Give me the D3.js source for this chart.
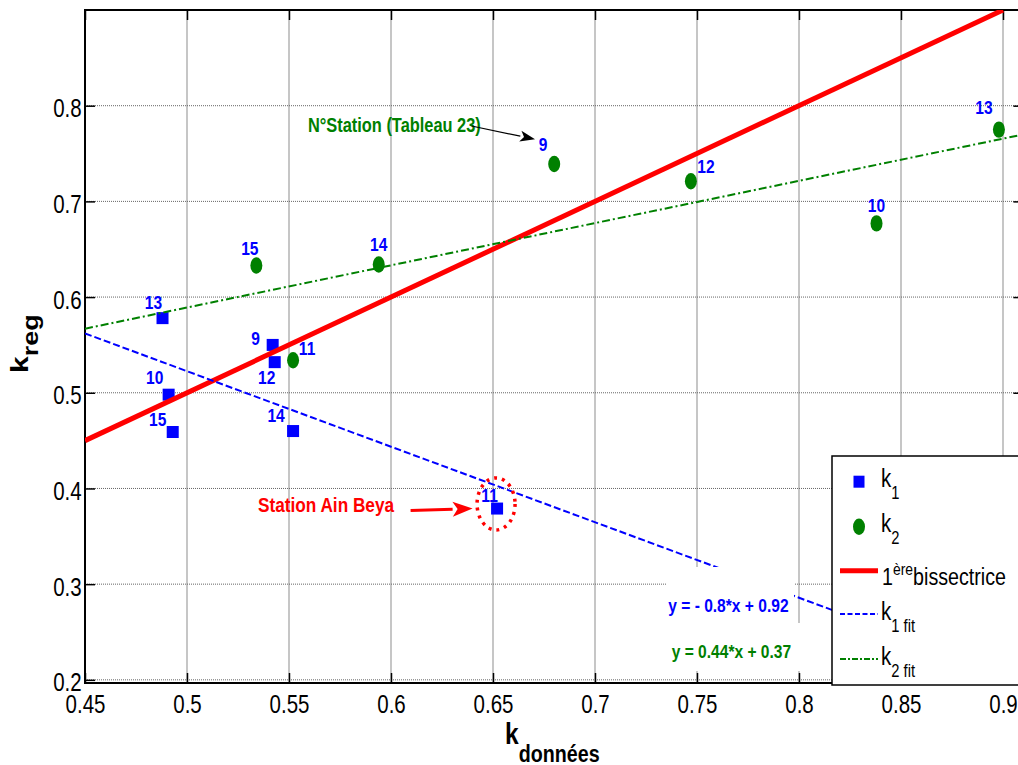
<!DOCTYPE html>
<html><head><meta charset="utf-8">
<script src="https://cdn.jsdelivr.net/npm/d3@7"></script>
<style>body{margin:0;background:#fff}svg{display:block}</style>
</head><body>
<svg id="c" width="1018" height="765"></svg>
<script>
// ---- data ----
const k1Stations = [13, 10, 15, 9, 12, 14, 11];
const k1X = [0.488, 0.491, 0.493, 0.542, 0.543, 0.552, 0.652];
const k1Y = [0.578, 0.498, 0.459, 0.550, 0.532, 0.460, 0.379];
const k2Stations = [15, 11, 14, 9, 12, 10, 13];
const k2X = [0.534, 0.552, 0.594, 0.680, 0.747, 0.838, 0.898];
const k2Y = [0.633, 0.534, 0.634, 0.739, 0.721, 0.677, 0.775];
const bisX = [0.45, 0.90];
const bisY = [0.45, 0.90];
const k1FitX = [0.45, 0.91];
const k1FitY = [0.562, 0.199];
const k2FitX = [0.45, 0.91];
const k2FitY = [0.567, 0.770];
const xTicks = [0.45, 0.5, 0.55, 0.6, 0.65, 0.7, 0.75, 0.8, 0.85, 0.9];
const yTicks = [0.2, 0.3, 0.4, 0.5, 0.6, 0.7, 0.8];
const eqK1 = "y = - 0.8*x + 0.92";
const eqK2 = "y = 0.44*x + 0.37";
// label offsets (px) for station numbers
const k1LabDx = [-9, -14, -15, -17, -8, -17, -7.5];
const k1LabDy = [-16, -17, -13, -7, 15, -16, -13];
const k2LabDx = [-6.5, 14, 0, -11, 15, 0, -15];
const k2LabDy = [-17.5, -12, -20, -20, -15, -18, -22];

const FONT = '"Liberation Sans", Arial, sans-serif';
const SQ = 0.82;
const BLUE = "#0000ff", GREEN = "#008000", RED = "#ff0000";

const svg = d3.select("#c");
const x = d3.scaleLinear().domain([0.45, 0.91]).range([85, 1023.4]);
const y = d3.scaleLinear().domain([0.1967, 0.9]).range([683, 10]);
const X0 = x.range()[0], X1 = x.range()[1], Y0 = y.range()[1], Y1 = y.range()[0];

function stext(parent, px, py, opts = {}) {
  const t = parent.append("text")
    .attr("transform", `translate(${px},${py}) scale(${SQ},1)`)
    .attr("font-family", FONT)
    .attr("font-size", opts.size || 18)
    .attr("font-weight", opts.bold ? "bold" : "normal")
    .attr("fill", opts.fill || "#000")
    .attr("text-anchor", opts.anchor || "start");
  if (opts.text !== undefined) t.text(opts.text);
  return t;
}

svg.append("defs").append("clipPath").attr("id", "clip")
  .append("rect").attr("x", X0).attr("y", Y0).attr("width", X1 - X0).attr("height", Y1 - Y0);

// grid
const grid = svg.append("g");
grid.selectAll(".vg").data(xTicks.filter(d => d > 0.45)).join("line")
  .attr("x1", d => x(d)).attr("x2", d => x(d)).attr("y1", Y0).attr("y2", Y1)
  .attr("stroke", "#a0a0a0").attr("stroke-width", 1.2);
grid.selectAll(".hg").data(yTicks).join("line")
  .attr("x1", X0).attr("x2", X1).attr("y1", d => y(d)).attr("y2", d => y(d))
  .attr("stroke", "#666").attr("stroke-width", 1).attr("stroke-dasharray", "1,1");

// axes ticks
const fmt = d => String(+d.toFixed(2));
const gx = svg.append("g").attr("transform", `translate(0,${Y1})`)
  .call(d3.axisBottom(x).tickValues(xTicks).tickFormat(fmt).tickSizeInner(-10).tickSizeOuter(0));
gx.selectAll("text").attr("y", 30).attr("dy", null).attr("transform", `scale(${SQ},1)`)
  .attr("font-size", 25).attr("font-family", FONT).attr("fill", "#000");
const gy = svg.append("g").attr("transform", `translate(${X0},0)`)
  .call(d3.axisLeft(y).tickValues(yTicks).tickFormat(fmt).tickSizeInner(-10).tickSizeOuter(0));
gy.selectAll("text").attr("x", -4).attr("y", 11).attr("dy", null).attr("transform", `scale(${SQ},1)`)
  .attr("font-size", 25).attr("font-family", FONT).attr("fill", "#000");
svg.append("g").attr("transform", `translate(0,${Y0})`)
  .call(d3.axisTop(x).tickValues(xTicks).tickFormat("").tickSizeInner(-10).tickSizeOuter(0));
svg.append("g").attr("transform", `translate(${X1},0)`)
  .call(d3.axisRight(y).tickValues(yTicks).tickFormat("").tickSizeInner(-10).tickSizeOuter(0));
svg.selectAll(".domain").remove();
svg.selectAll(".tick line").attr("stroke", "#000").attr("stroke-width", 1.5);

// box
svg.append("rect").attr("x", X0).attr("y", Y0).attr("width", X1 - X0).attr("height", Y1 - Y0)
  .attr("fill", "none").attr("stroke", "#000").attr("stroke-width", 2);

const plot = svg.append("g").attr("clip-path", "url(#clip)");

// markers
const k1 = k1X.map((v, i) => ({ x: v, y: k1Y[i], s: k1Stations[i], dx: k1LabDx[i], dy: k1LabDy[i] }));
const k2 = k2X.map((v, i) => ({ x: v, y: k2Y[i], s: k2Stations[i], dx: k2LabDx[i], dy: k2LabDy[i] }));
plot.selectAll(".k1").data(k1).join("rect")
  .attr("x", d => x(d.x) - 6).attr("y", d => y(d.y) - 6).attr("width", 12).attr("height", 12)
  .attr("fill", BLUE);
plot.selectAll(".k2").data(k2).join("ellipse")
  .attr("cx", d => x(d.x)).attr("cy", d => y(d.y)).attr("rx", 6).attr("ry", 8.2)
  .attr("fill", GREEN);

// lines
const line = d3.line().x(d => x(d[0])).y(d => y(d[1]));
plot.append("path").attr("d", line(bisX.map((v, i) => [v, bisY[i]])))
  .attr("fill", "none").attr("stroke", RED).attr("stroke-width", 5);
plot.append("path").attr("d", line(k1FitX.map((v, i) => [v, k1FitY[i]])))
  .attr("fill", "none").attr("stroke", BLUE).attr("stroke-width", 2).attr("stroke-dasharray", "7,3");
plot.append("path").attr("d", line(k2FitX.map((v, i) => [v, k2FitY[i]])))
  .attr("fill", "none").attr("stroke", GREEN).attr("stroke-width", 2).attr("stroke-dasharray", "8,3,2,3");

// station labels
const labs = svg.append("g");
k1.concat(k2).forEach(d => {
  stext(labs, x(d.x) + d.dx, y(d.y) + d.dy + 6.8, { size: 19, bold: true, fill: BLUE, anchor: "middle", text: d.s });
});

// annotations
const ann = svg.append("g");
stext(ann, x(0.5593), y(0.773), { size: 20, bold: true, fill: GREEN, text: "N°Station (Tableau 23)" });
function arrow(g, x1, y1, x2, y2, color, w, hl, hw) {
  const ang = Math.atan2(y2 - y1, x2 - x1);
  const bx = x2 - hl * Math.cos(ang), by = y2 - hl * Math.sin(ang);
  g.append("line").attr("x1", x1).attr("y1", y1).attr("x2", bx).attr("y2", by)
    .attr("stroke", color).attr("stroke-width", w);
  const px = -Math.sin(ang) * hw / 2, py = Math.cos(ang) * hw / 2;
  const nx = x2 - hl * 0.75 * Math.cos(ang), ny = y2 - hl * 0.75 * Math.sin(ang);
  g.append("path").attr("d", `M${x2},${y2}L${bx + px},${by + py}L${nx},${ny}L${bx - px},${by - py}Z`)
    .attr("fill", color);
}
arrow(ann, x(0.6395), y(0.7788), x(0.6706), y(0.7649), "#000", 1.2, 15, 11);
stext(ann, x(0.5348), y(0.3752), { size: 21, bold: true, fill: RED, text: "Station Ain Beya" });
arrow(ann, x(0.6096), y(0.377), x(0.6400), y(0.3790), RED, 3, 20, 15);
ann.append("ellipse").attr("cx", x(0.6515)).attr("cy", y(0.3838)).attr("rx", 19).attr("ry", 26)
  .attr("fill", "none").attr("stroke", RED).attr("stroke-width", 3.5).attr("stroke-dasharray", "3,5");

// equation boxes
ann.append("rect").attr("x", 666).attr("y", 567).attr("width", 128).attr("height", 56).attr("fill", "#fff");
ann.append("rect").attr("x", 666).attr("y", 623).attr("width", 134).attr("height", 48).attr("fill", "#fff");
stext(ann, x(0.7359), y(0.2714), { size: 19, bold: true, fill: BLUE, text: eqK1 });
stext(ann, x(0.7376), y(0.2227), { size: 19, bold: true, fill: GREEN, text: eqK2 });

// axis labels
const xl = stext(svg, 505, 744, { size: 30, bold: true });
xl.append("tspan").text("k");
xl.append("tspan").attr("font-size", 24).attr("dy", 18).text("données");
const yl = svg.append("text")
  .attr("transform", `translate(28,373) scale(${SQ},1) rotate(-90)`)
  .attr("font-family", FONT).attr("font-weight", "bold").attr("font-size", 30);
yl.append("tspan").text("k");
yl.append("tspan").attr("font-size", 27).attr("dy", 12.5).text("reg");

// legend
const lg = svg.append("g");
lg.append("rect").attr("x", 832).attr("y", 456).attr("width", 200).attr("height", 229)
  .attr("fill", "#fff").attr("stroke", "#000").attr("stroke-width", 1.5);
lg.append("rect").attr("x", 853.5).attr("y", 475.7).attr("width", 11).attr("height", 12).attr("fill", BLUE);
lg.append("ellipse").attr("cx", 859).attr("cy", 526.7).attr("rx", 6).attr("ry", 8.2).attr("fill", GREEN);
lg.append("line").attr("x1", 840).attr("x2", 878).attr("y1", 570.7).attr("y2", 570.7)
  .attr("stroke", RED).attr("stroke-width", 5);
lg.append("line").attr("x1", 840).attr("x2", 878).attr("y1", 614).attr("y2", 614)
  .attr("stroke", BLUE).attr("stroke-width", 2).attr("stroke-dasharray", "5,2.5");
lg.append("line").attr("x1", 840).attr("x2", 878).attr("y1", 659).attr("y2", 659)
  .attr("stroke", GREEN).attr("stroke-width", 2).attr("stroke-dasharray", "6,2,2,2");
function kLabel(by, sub) {
  const t = stext(lg, 881, by, { size: 25 });
  t.append("tspan").text("k");
  t.append("tspan").attr("font-size", 18).attr("dy", 12).text(sub);
}
kLabel(487, "1");
kLabel(532, "2");
const bt = stext(lg, 882, 585, { size: 24 });
bt.append("tspan").text("1");
bt.append("tspan").attr("font-size", 17).attr("dy", -10).text("ère");
bt.append("tspan").attr("dy", 10).text("bissectrice");
kLabel(620, "1 fit");
kLabel(665, "2 fit");
</script>
</body></html>
